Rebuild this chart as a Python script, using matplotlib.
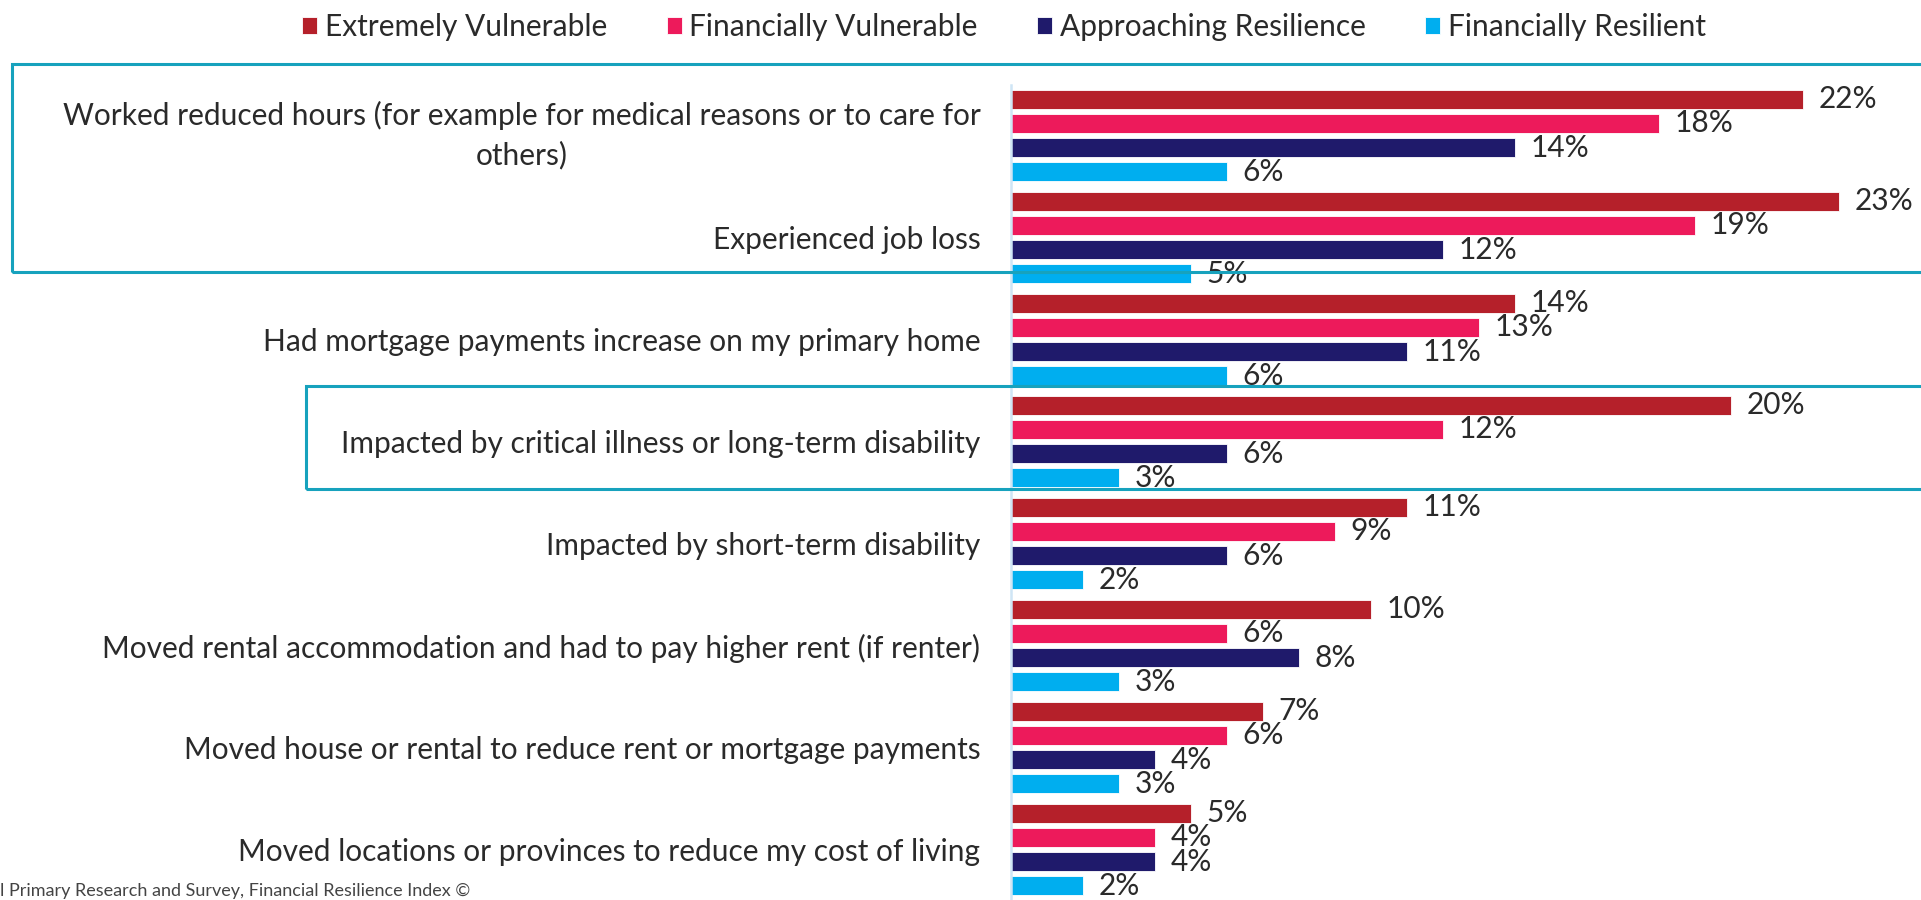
import matplotlib
matplotlib.use("Agg")
import matplotlib.pyplot as plt
from matplotlib.patches import Rectangle
import numpy as np

plt.rcParams['font.family'] = ['Lato', 'DejaVu Sans']

categories = [
    "Worked reduced hours (for example for medical reasons or to care for\nothers)",
    "Experienced job loss",
    "Had mortgage payments increase on my primary home",
    "Impacted by critical illness or long-term disability",
    "Impacted by short-term disability",
    "Moved rental accommodation and had to pay higher rent (if renter)",
    "Moved house or rental to reduce rent or mortgage payments",
    "Moved locations or provinces to reduce my cost of living",
]
series_names = ["Extremely Vulnerable", "Financially Vulnerable",
                "Approaching Resilience", "Financially Resilient"]
extremely_vulnerable = [22, 23, 14, 20, 11, 10, 7, 5]
financially_vulnerable = [18, 19, 13, 12, 9, 6, 6, 4]
approaching_resilience = [14, 12, 11, 6, 6, 8, 4, 4]
financially_resilient = [6, 5, 6, 3, 2, 3, 3, 2]
series_values = [extremely_vulnerable, financially_vulnerable,
                 approaching_resilience, financially_resilient]
colors = ["#B5202A", "#ED1A5B", "#1F1A6B", "#00AEEF"]
footnote = "l Primary Research and Survey, Financial Resilience Index \u00a9"

W, H = 1921, 900
fig = plt.figure(figsize=(W / 100, H / 100), dpi=100)

ax_left, ax_top, ax_right, ax_bottom = 1011, 85, 1921, 900
ax = fig.add_axes([ax_left / W, 1 - ax_bottom / H,
                   (ax_right - ax_left) / W, (ax_bottom - ax_top) / H])

first_center = 99.0
pitch = 102.0
step = 24.3 / pitch
bar_h = 19.0 / pitch
x_scale = 36.0  # px per percent

FS = 21.5
text_color = "#2a2a2a"
y0 = np.arange(len(categories))
handles = []
for j, (name, vals, c) in enumerate(zip(series_names, series_values, colors)):
    ys = y0 + j * step
    b = ax.barh(ys, vals, height=bar_h, color=c, edgecolor="white",
                linewidth=0.6, label=name)
    handles.append(b)
    for yy, v in zip(ys, vals):
        ax.annotate(f"{v}%", (v, yy), xytext=(11, 0), textcoords="offset points",
                    ha="left", va="center", fontsize=FS, color=text_color)

ax.set_xlim(0, (ax_right - ax_left) / x_scale)
ax.set_ylim((ax_bottom - first_center) / pitch, (ax_top - first_center) / pitch)

ax.set_yticks(y0 + 1.5 * step)
ax.set_yticklabels(categories, fontsize=FS, color=text_color)
for lbl in ax.get_yticklabels():
    lbl.set_multialignment("center")
    lbl.set_linespacing(1.44)
    if "\n" in lbl.get_text():
        lbl.set_verticalalignment("center")
ax.tick_params(axis="y", length=0, pad=22)
ax.tick_params(axis="x", length=0, labelbottom=False)
for s in ["top", "right", "bottom"]:
    ax.spines[s].set_visible(False)
ax.spines["left"].set_color("#cfe5f5")
ax.spines["left"].set_linewidth(1.8)

# Legend
leg = fig.legend(handles=handles, labels=series_names, loc="center",
                 bbox_to_anchor=(1004 / W, 1 - 27 / H), ncol=4, frameon=False,
                 handlelength=0.5, handleheight=0.5,
                 handletextpad=0.25, columnspacing=2.0,
                 prop={"size": FS})
for t in leg.get_texts():
    t.set_color(text_color)

# Highlight boxes (pixel coordinates)
def box(x0, y_top, x1, y_bot):
    r = Rectangle((x0 / W, 1 - y_bot / H), (x1 - x0) / W, (y_bot - y_top) / H,
                  transform=fig.transFigure, fill=False, edgecolor="#17A2BD",
                  linewidth=2.2, clip_on=False)
    fig.add_artist(r)

box(12, 64, 1930, 272)
box(306, 386, 1930, 489)

fig.text(0, 1 - 899 / H, footnote, ha="left", va="bottom", fontsize=13,
         color="#444444")

fig.savefig("out.png", dpi=100)
